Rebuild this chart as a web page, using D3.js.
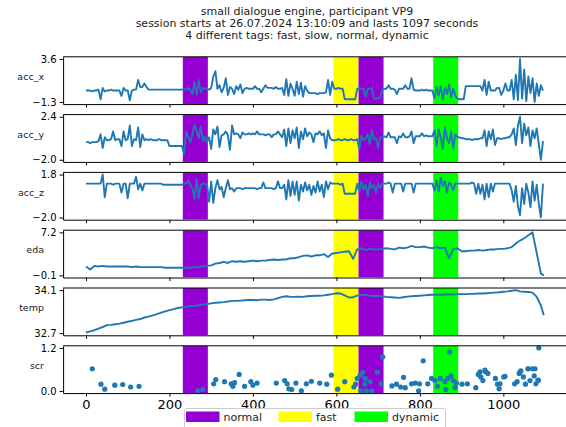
<!DOCTYPE html>
<html>
<head>
<meta charset="utf-8">
<script src="https://cdn.jsdelivr.net/npm/d3@7/dist/d3.min.js"></script>
<style>
  body { margin: 0; background: #fff; }
  svg { display: block; font-family: "DejaVu Sans", sans-serif; }
</style>
</head>
<body>
<svg id="chart" width="566" height="427"></svg>
<script>
// ---- session text ----
const titleLines = [
  "small dialogue engine, participant VP9",
  "session starts at 26.07.2024 13:10:09 and lasts 1097 seconds",
  "4 different tags: fast, slow, normal, dynamic"
];

// ---- tagged intervals (seconds) ----
const tagNames = ["normal", "fast", "dynamic"];
const tagColors = ["#9400d3", "#ffff00", "#00ff00"];
const spanTags = ["normal", "fast", "normal", "dynamic"];
const spanStart = [232, 593, 653, 832];
const spanEnd = [292, 653, 713, 892];

const xTicks = [0, 200, 400, 600, 800, 1000];

// ---- accelerometer, one sample every 5 s ----
const accTime = d3.range(0, 1100, 5);
const accX = [
  0,0,0,-0.1,0,0,0.1,-1.0,0.3,-0.1,0,0,0.1,0,0,0,0,-0.6,0.3,0,
  0,-1.1,0,0.1,0.1,1.2,0.4,0.4,0.8,0.4,0.1,0.1,0.1,0.1,0.1,0.1,0.1,0.1,0.1,0.1,
  0.1,0.1,0.1,0.1,0.1,0.1,0.1,0.2,0.1,0.3,0.1,-0.4,1.0,-0.5,1.2,-0.2,0.3,0.2,0.2,0.1,
  0.3,1.6,2.2,0.2,0.6,-0.2,0.3,1.4,-0.5,0.4,0.2,-0.4,0.5,0.1,0.7,-0.3,0.2,0.3,0.2,0.2,
  0.2,0.5,0.2,0.2,-0.2,0.2,0.6,0.3,0.3,0.3,0.2,0.4,0.2,0.2,0.3,-0.5,1.3,-0.6,0.8,0.2,
  -0.6,1.0,-0.4,0.9,-0.7,0.5,0.0,-0.3,-0.3,-0.3,-0.3,-0.4,-0.3,-0.3,-0.3,-0.2,1.2,-0.5,1.0,0.2,
  0.2,0.3,0.2,0.2,-1.0,-1.0,-1.0,-1.0,-1.0,-1.0,0.2,0.3,0.2,0.2,-0.7,0.2,0.2,0.3,-0.9,-0.9,
  -0.9,-0.8,0.1,0.2,0.2,0.6,0.2,0.2,0.1,-0.4,0.2,0.2,0.2,0.6,0.2,0.2,1.4,0.1,0.0,0.0,
  0.0,0.1,0.0,0.1,0.0,0.0,0.0,-0.9,0.4,-0.6,0.5,-1.0,0.3,-0.4,0.7,-0.8,0.2,-0.6,-0.9,-1.0,
  -1.0,-1.0,0.5,0.5,0.5,0.5,0.5,0.5,0.5,0.5,0.0,1.2,-0.5,1.0,0.0,0.0,0.0,0.3,0.3,-0.5,
  0.0,0.8,0.0,0.0,1.2,-1.0,1.8,-1.1,3.6,-0.9,2.4,-1.2,1.6,-0.3,1.4,-1.3,0.8,-0.6,0.6,0.0
];
const accY = [
  -0.2,-0.2,-0.3,-0.2,-0.2,-0.2,-0.1,0.6,-0.8,0.3,0.0,0.0,0.1,0.9,0.0,0.1,0.1,-0.6,0.9,0.0,
  0.1,1.5,-0.6,0.1,0.0,1.3,-0.7,0.6,0.0,0.1,0.0,0.1,0.0,0.0,0.0,0.1,0.0,0.0,0.0,0.0,
  -0.6,-0.6,-0.6,-0.6,-0.6,-0.6,-0.6,-1.4,0.9,0.3,-0.2,0.6,1.6,1.0,0.2,1.4,-0.1,0.4,-0.2,0.3,
  -0.9,1.1,0.6,1.4,-0.7,0.5,0.6,0.9,0.5,-1.0,1.5,0.6,0.7,0.6,0.2,0.8,0.6,0.6,0.7,0.6,
  0.7,0.6,0.9,0.6,0.6,0.6,0.5,0.6,0.6,0.3,0.6,0.6,0.9,0.6,0.3,1.1,-0.6,1.2,-0.3,1.0,
  0.2,1.3,-0.8,0.9,0.1,1.2,0.4,0.8,0.6,-0.2,0.7,0.6,0.9,0.5,0.7,-0.8,1.0,0.2,0.0,0.0,
  0.0,0.1,0.0,0.0,0.1,0.0,0.0,0.1,0.0,0.0,0.1,-0.9,0.5,0.0,0.1,0.6,-0.4,1.0,0.1,0.2,
  -0.8,0.3,0.3,0.4,0.3,0.8,0.3,0.3,0.3,-0.3,0.4,0.3,0.7,0.3,0.3,0.4,0.9,-0.3,0.4,0.4,
  0.4,0.7,0.4,0.5,0.4,0.4,0.4,1.0,-0.6,1.1,0.3,-0.9,1.3,0.2,-0.3,0.9,-0.8,0.6,0.3,0.3,
  0.2,0.2,0.1,0.1,0.1,0.0,0.1,0.1,0.1,0.2,0.2,1.0,-0.6,0.9,0.1,1.1,-0.5,0.2,0.2,0.1,
  0.2,0.2,0.3,0.3,0.6,1.2,-0.5,1.5,2.4,-0.3,1.7,0.5,1.3,-0.6,1.0,0.2,1.2,-0.4,-2.0,-0.1
];
const accZ = [
  1.0,1.0,1.0,1.0,1.0,1.0,1.0,1.0,1.8,-0.2,1.0,1.0,1.0,0.9,1.0,1.0,1.0,0.2,1.0,1.0,
  -0.3,1.0,1.0,1.0,1.6,0.5,1.0,0.4,1.0,1.0,1.0,1.0,1.0,1.0,1.0,1.0,1.0,0.9,0.9,0.9,
  0.9,0.9,0.9,0.9,0.9,0.9,0.9,1.0,1.0,1.3,0.9,0.6,-0.4,1.4,-0.3,0.9,1.0,1.0,0.9,-0.6,
  1.2,-0.7,0.6,1.3,0.5,0.7,-0.2,0.6,1.3,0.5,0.6,0.3,0.6,0.6,0.6,0.5,0.6,0.6,0.6,0.6,
  0.6,0.6,0.5,0.6,0.6,1.1,0.6,0.6,0.6,0.6,0.5,0.6,1.2,0.6,0.6,0.9,-0.4,1.3,-0.1,1.2,
  0.0,1.2,-0.5,0.9,0.3,1.1,0.4,0.9,0.0,0.8,0.2,1.2,0.3,0.9,-0.2,1.2,0.5,1.1,1.0,1.0,
  1.0,1.0,0.9,1.0,0.1,0.1,0.1,0.1,0.1,0.1,1.0,0.3,1.2,0.5,0.9,-0.1,1.1,0.6,0.9,0.2,
  1.0,0.6,1.0,1.0,1.0,1.1,1.0,0.2,1.0,1.0,1.0,1.0,0.3,1.0,1.0,1.0,1.0,0.2,1.0,1.0,
  1.0,1.0,1.0,1.0,1.0,1.0,1.0,0.4,1.3,0.3,1.5,0.8,1.2,0.2,1.1,0.9,0.4,1.0,1.0,1.0,
  1.0,1.0,1.0,1.0,1.0,1.1,1.0,0.1,1.0,0.1,0.9,-0.4,1.0,-0.2,1.0,0.3,1.0,1.0,1.0,1.0,
  1.0,1.0,1.0,1.0,0.4,-0.6,0.8,-1.0,-1.8,0.6,-0.8,1.0,0.2,-1.1,1.2,-0.5,0.9,-0.8,-2.0,1.0
];

// ---- slow signals, one sample every 10 s plus the last one ----
const slowTime = d3.range(0, 1100, 10).concat([1097]);
const eda = [
  1.4,0.9,1.5,1.4,1.5,1.4,1.4,1.4,1.4,1.4,
  1.4,1.3,1.4,1.3,1.3,1.3,1.3,1.3,1.3,1.2,
  1.2,1.2,1.2,1.2,1.2,1.2,1.3,1.3,1.4,1.5,
  1.6,1.9,2.0,2.2,2.0,2.3,2.2,2.3,2.2,2.3,
  2.4,2.3,2.4,2.4,2.5,2.6,2.5,2.6,2.6,2.8,
  2.8,3.0,3.2,3.3,3.1,3.3,3.3,3.5,3.0,3.6,
  3.7,3.8,3.9,4.0,2.7,4.3,4.5,4.2,4.4,4.3,
  4.3,4.4,4.5,4.4,4.3,4.6,4.5,4.6,4.9,4.7,
  4.7,4.8,4.6,4.5,4.7,4.5,4.6,2.8,4.4,4.5,
  4.0,4.0,4.1,4.1,4.2,4.1,4.2,4.3,4.3,4.4,
  4.4,4.5,4.7,5.3,5.8,6.2,6.7,7.2,3.7,0.2,
  -0.1
];
const temp = [
  32.72,32.76,32.80,32.85,32.90,32.96,32.97,32.99,33.01,33.04,
  33.07,33.10,33.13,33.16,33.21,33.24,33.28,33.32,33.37,33.41,
  33.45,33.48,33.52,33.54,33.56,33.58,33.59,33.61,33.63,33.65,
  33.67,33.69,33.70,33.71,33.73,33.75,33.75,33.76,33.77,33.78,
  33.78,33.77,33.79,33.79,33.78,33.80,33.84,33.88,33.90,33.88,
  33.88,33.89,33.88,33.90,33.91,33.92,33.92,33.93,33.95,33.97,
  34.00,33.99,33.93,33.86,33.87,33.92,33.95,33.94,33.92,33.91,
  33.91,33.90,33.88,33.87,33.86,33.85,33.87,33.89,33.90,33.91,
  33.92,33.93,33.94,33.95,33.95,33.95,33.96,33.96,33.96,33.97,
  33.97,33.97,33.98,33.98,33.99,33.99,34.00,34.01,34.02,34.03,
  34.05,34.06,34.08,34.10,34.06,34.05,34.04,34.02,33.88,33.60,
  33.28
];

// ---- skin conductance responses: [time, amplitude] ----
const scrEvents = [
  [15,0.62],[36,0.19],[45,0.05],[69,0.16],[88,0.18],[107,0.11],[127,0.13],
  [268,0.0],[280,0.04],[306,0.2],[311,0.32],[332,0.26],[348,0.2],[352,0.13],[356,0.23],
  [367,0.46],[380,0.13],[395,0.26],[400,0.16],[410,0.22],[456,0.22],[476,0.29],[482,0.2],
  [486,0.06],[493,0.04],[503,0.22],[516,0.0],[528,0.2],[540,0.27],[560,0.22],[577,0.19],
  [588,0.44],[603,0.05],[620,0.26],[642,0.11],[646,0.19],[650,0.35],[657,0.44],[659,0.0],
  [663,0.52],[668,0.19],[669,0.35],[672,0.0],[681,0.26],[685,0.0],[698,0.52],[707,0.2],
  [711,0.95],[733,0.14],[744,0.19],[754,0.11],[761,0.38],[765,0.09],[780,0.2],[789,0.22],
  [797,0.0],[799,0.2],[808,0.84],[819,0.2],[828,0.35],[836,0.29],[842,0.13],[849,0.35],
  [860,0.26],[862,0.04],[867,0.35],[871,1.09],[875,0.42],[880,0.29],[884,0.09],[888,0.22],
  [901,0.19],[914,0.2],[934,0.09],[940,0.46],[944,0.53],[946,0.39],[951,0.29],[956,0.58],
  [957,0.54],[963,0.49],[981,0.35],[986,0.19],[990,0.06],[992,0.2],[1001,0.39],[1004,0.41],
  [1027,0.2],[1033,0.26],[1038,0.49],[1040,0.53],[1042,0.56],[1048,0.39],[1053,0.19],
  [1059,0.62],[1060,0.62],[1064,0.29],[1070,0.62],[1074,0.42],[1076,0.62],[1078,0.2],
  [1083,0.29],[1084,0.3],[1085,1.2]
];

// ---- panel labels and the min / max tick of each panel ----
const panelNames = ["acc_x", "acc_y", "acc_z", "eda", "temp", "scr"];
const tickLow = [-1.3, -2.0, -2.0, -0.1, 32.7, 0.0];
const tickHigh = [3.6, 2.4, 1.8, 7.2, 34.1, 1.2];

// ---------------------------------------------------------------
const svg = d3.select("#chart");
const blue = "#1f77b4";
const panelTop0 = 56.8, panelStep = 57.8, panelH = 47.3;

const x = d3.scaleLinear().domain([-54.85, 1151.85]).range([63.1, 566.7]);

const lineSeries = [
  { time: accTime, values: accX },
  { time: accTime, values: accY },
  { time: accTime, values: accZ },
  { time: slowTime, values: eda },
  { time: slowTime, values: temp }
];

svg.append("defs").append("clipPath").attr("id", "plotArea")
  .append("rect").attr("x", x.range()[0]).attr("y", 0)
  .attr("width", x.range()[1] - x.range()[0]).attr("height", panelH);

panelNames.forEach((name, i) => {
  const lo = tickLow[i], hi = tickHigh[i], pad = (hi - lo) * 0.05;
  const y = d3.scaleLinear().domain([lo - pad, hi + pad]).range([panelH, 0]);
  const g = svg.append("g").attr("transform", `translate(0,${panelTop0 + i * panelStep})`);
  const plot = g.append("g").attr("clip-path", "url(#plotArea)");

  // tagged intervals
  spanTags.forEach((tag, k) => {
    plot.append("rect")
      .attr("x", x(spanStart[k])).attr("y", 0)
      .attr("width", x(spanEnd[k]) - x(spanStart[k])).attr("height", panelH)
      .attr("fill", tagColors[tagNames.indexOf(tag)]);
  });

  if (i < lineSeries.length) {
    const s = lineSeries[i];
    const line = d3.line().x((d, j) => x(s.time[j])).y(d => y(d));
    plot.append("path").datum(s.values)
      .attr("d", line).attr("fill", "none")
      .attr("stroke", blue).attr("stroke-width", 1.9)
      .attr("stroke-linejoin", "round");
  } else {
    plot.selectAll("circle").data(scrEvents).join("circle")
      .attr("cx", d => x(d[0])).attr("cy", d => y(d[1]))
      .attr("r", 2.6).attr("fill", blue);
  }

  // spines and ticks
  const yAxis = g.append("g").attr("transform", `translate(${x.range()[0]},0)`)
    .call(d3.axisLeft(y).tickValues([lo, hi]).tickFormat(d3.format(".1f"))
      .tickSize(3.5).tickSizeOuter(0).tickPadding(3));
  yAxis.selectAll("text").attr("font-size", 10).attr("fill", "#000")
    .attr("font-family", "DejaVu Sans, sans-serif");

  const last = i === panelNames.length - 1;
  const xAxis = g.append("g").attr("transform", `translate(0,${panelH})`)
    .call(d3.axisBottom(x).tickValues(xTicks).tickFormat(last ? d3.format("d") : () => "")
      .tickSize(3.5).tickSizeOuter(0).tickPadding(3.5));
  xAxis.selectAll("text").attr("font-size", 13).attr("fill", "#000")
    .attr("font-family", "DejaVu Sans, sans-serif");

  g.append("line").attr("x1", x.range()[0]).attr("x2", x.range()[1])
    .attr("y1", 0).attr("y2", 0).attr("stroke", "#000");

  g.selectAll(".domain, .tick line").attr("stroke", "#000").attr("stroke-width", 1);

  g.append("text").attr("x", 44).attr("y", panelH / 2 - 4)
    .attr("text-anchor", "end").attr("dominant-baseline", "central")
    .attr("font-size", 9.5).attr("fill", "#222").text(name);
});

// title
svg.append("g").selectAll("text").data(titleLines).join("text")
  .attr("x", 307).attr("y", (d, i) => 15 + i * 12)
  .attr("text-anchor", "middle").attr("font-size", 11).attr("fill", "#222")
  .text(d => d);

// legend (sits over the tick labels, semi-transparent)
const legend = svg.append("g");
legend.append("rect").attr("x", 184.5).attr("y", 408.5).attr("width", 261).attr("height", 30)
  .attr("rx", 2).attr("fill", "#fff").attr("fill-opacity", 0.8)
  .attr("stroke", "#ccc").attr("stroke-width", 1);
const legendX = [186, 278.5, 354.5];
tagNames.forEach((tag, k) => {
  legend.append("rect").attr("x", legendX[k]).attr("y", 411.5)
    .attr("width", 33.5).attr("height", 10.5).attr("fill", tagColors[k]);
  legend.append("text").attr("x", legendX[k] + 37.5).attr("y", 421)
    .attr("font-size", 11).attr("fill", "#222").text(tag);
});
</script>
</body>
</html>
